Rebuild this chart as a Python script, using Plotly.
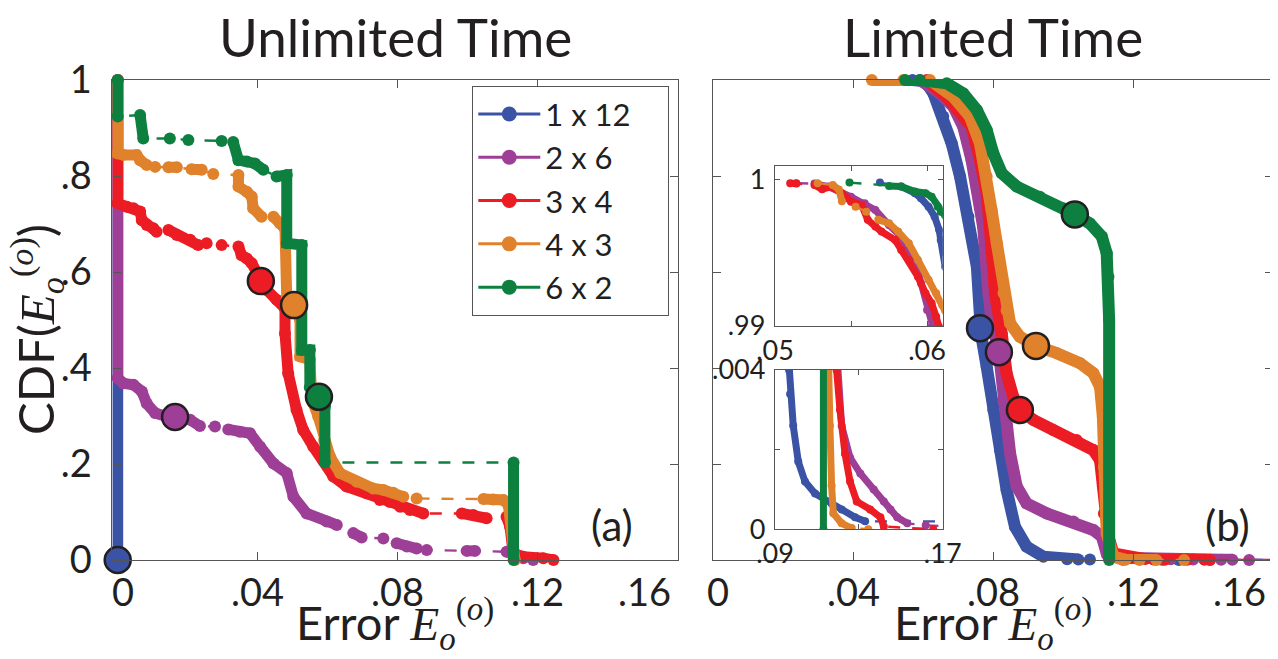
import plotly.graph_objects as go

NAMES = ["1 x 12", "2 x 6", "3 x 4", "4 x 3", "6 x 2"]
COLORS = ["#3A53A4", "#9D3F97", "#EC1C24", "#E0812B", "#0D8040"]

# ---------------- panel (a): Unlimited Time (runs of dense points) ----------------
A_BLUE = [[(0, 1), (0, 0)]]
A_PURPLE = [
    [(0, 1), (0, .379), (.0016, .368), (.0045, .365), (.0069, .351), (.0083, .326), (.0107, .306),
     (.014, .299), (.0169, .299), (.0207, .292), (.0235, .279)],
    [(.0278, .278)],
    [(.0316, .272), (.0349, .267), (.0378, .264), (.0407, .236), (.0445, .201), (.0483, .181),
     (.0502, .132), (.054, .097), (.0597, .080), (.0626, .073)],
    [(.0673, .056), (.0697, .047)],
    [(.0759, .045)],
    [(.0797, .035), (.0826, .028), (.0854, .024)],
    [(.0883, .021)],
    [(.0997, .019), (.1021, .019)],
    [(.1111, .017), (.113, .014), (.1159, .0035), (.1187, 0)],
]
A_RED = [
    [(0, 1), (0, .743), (.0026, .736), (.0045, .733), (.0064, .726), (.0069, .708), (.0083, .698),
     (.0102, .691), (.0111, .684)],
    [(.0145, .6875), (.0169, .677), (.0207, .667), (.023, .656)],
    [(.0254, .660)],
    [(.0297, .656)],
    [(.0345, .653), (.0354, .635), (.0369, .628), (.0383, .618), (.0407, .587), (.0426, .5625),
     (.0454, .542), (.0478, .524), (.0478, .472), (.0487, .389), (.0511, .3125), (.053, .271),
     (.0559, .236), (.0587, .208), (.0616, .174), (.0654, .153), (.0711, .139), (.0749, .125),
     (.0778, .121), (.0807, .111), (.0835, .104), (.0873, .097)],
    [(.0983, .097), (.1016, .094), (.1054, .087)],
    [(.1111, .090), (.1121, .069), (.113, .014), (.1159, .007), (.1216, .0035), (.1245, 0)],
]
A_ORANGE = [
    [(0, 1), (0, .847), (.0016, .844), (.0054, .844), (.0064, .833), (.0083, .823)],
    [(.0107, .819)],
    [(.0145, .818), (.0169, .818)],
    [(.0211, .814), (.024, .813)],
    [(.0273, .804)],
    [(.0345, .802), (.0345, .778), (.0369, .767), (.0383, .757), (.0387, .733), (.0411, .715)],
    [(.0445, .715), (.0464, .701), (.0478, .690), (.0483, .545), (.0502, .531), (.0521, .50),
     (.0521, .424), (.0549, .417), (.0555, .333), (.0573, .299), (.059, .25), (.0607, .215),
     (.0635, .181), (.0683, .163), (.073, .149), (.0759, .146), (.0787, .140), (.0816, .132)],
    [(.0854, .128)],
    [(.1045, .127), (.1073, .126), (.1102, .125), (.1116, .115), (.1135, 0)],
]
A_GREEN = [
    [(0, 1), (0, .924)],
    [(.0064, .927), (.0073, .878)],
    [(.0149, .878)],
    [(.0202, .875)],
    [(.0297, .873)],
    [(.033, .871), (.0345, .833), (.0369, .830), (.0392, .826), (.0416, .813)],
    [(.0454, .799), (.0483, .802), (.0483, .660), (.0526, .656), (.0526, .4375), (.0549, .4375),
     (.0549, .36), (.0578, .34), (.0592, .32), (.0592, .203)],
    [(.1131, .203), (.1131, 0)],
]
A_MARK_X = [0, .0164, .0409, .0504, .0575]
A_MARK_Y = [0, .298, .581, .531, .340]

# ---------------- panel (b): Limited Time ----------------
B_BLUE = [
    [(.0569, 1.0), (.0605, .9975), (.0629, .972), (.0657, .924), (.0681, .868), (.0705, .799),
     (.0729, .715), (.0753, .611), (.0762, .507), (.0762, .483), (.0781, .403), (.08, .3125),
     (.0819, .229), (.0838, .146), (.0862, .069), (.0895, .028), (.0943, .007), (.1011, .0017),
     (.1043, .0012)],
    [(.1076, .0012)],
    [(.117, .0007), (.1282, .0003), (.133, .0002)],
    [(.165, .0002)],
]
B_PURPLE = [
    [(.059, 1.0), (.0648, .972), (.0686, .944), (.0714, .903), (.0738, .833), (.0757, .764),
     (.0771, .694), (.0786, .556), (.0795, .50), (.0816, .433), (.0829, .333), (.0848, .222),
     (.0867, .153), (.0895, .118), (.0953, .097), (.1029, .080), (.1086, .0625), (.111, .0486),
     (.1124, .014), (.1194, .004), (.1258, .0018), (.1307, .0014), (.1371, .001), (.1419, .0007),
     (.1451, .0005), (.1483, .0003)],
    [(.1531, .00015)],
    [(.1619, .0001)],
]
B_RED = [
    [(.061, 1.0), (.0676, .958), (.0714, .924), (.0738, .903), (.0762, .833), (.0781, .764),
     (.079, .694), (.0805, .556), (.0824, .472), (.0838, .389), (.0857, .340), (.0876, .3125),
     (.0914, .292), (.0971, .271), (.1038, .25), (.1086, .229), (.1105, .208), (.1113, .153),
     (.1116, .097), (.1129, .0486), (.1143, .014), (.1194, .004), (.121, .003), (.1234, .0019),
     (.1258, .0012), (.129, .0007), (.1354, .0005), (.1403, .0003), (.1419, .0001)],
    [(.1655, 0)],
]
B_ORANGE = [
    [(.0453, 1.0), (.0543, 1.0), (.0619, 1.0), (.0686, .965), (.0733, .924), (.0762, .868),
     (.0781, .799), (.0795, .729), (.081, .660), (.0829, .556), (.0838, .52), (.0848, .493),
     (.0876, .465), (.0922, .446), (.0981, .431), (.1048, .41), (.1086, .389), (.1105, .361),
     (.1113, .2986), (.1116, .194), (.1124, .0556), (.1143, .007), (.1154, .004), (.1162, .0026),
     (.117, .0011), (.1178, .0004), (.1218, .00015), (.1266, .00003)],
    [(.1345, 0)],
]
B_GREEN = [
    [(.0548, 1.0), (.059, 1.0), (.0667, .993), (.0714, .972), (.0753, .9375), (.0781, .896),
     (.08, .847), (.0824, .806), (.0867, .778), (.0933, .757), (.1, .733), (.1033, .720),
     (.1076, .701), (.111, .674), (.1124, .639), (.1129, .590), (.1131, .5), (.1131, 0)],
]
B_MARK_X = [.0762, .0816, .0876, .0922, .1033]
B_MARK_Y = [.483, .433, .3125, .446, .720]

# ---------------- inset 1 (near CDF = 1) ----------------
I1_BLUE = [
    [(.0569, .99977)],
    [(.0583, .9995), (.0592, .99905), (.0596, .9987), (.0601, .99813), (.0605, .99745),
     (.0608, .99654), (.0609, .99586), (.0612, .994)],
]
I1_PURPLE = [
    [(.0514, .99973)],
    [(.0526, .9997), (.0535, .9995), (.055, .9988), (.0559, .99836), (.0566, .9979), (.0575, .99688),
     (.0583, .99609), (.0592, .9945), (.0596, .99291), (.06, .99109), (.0603, .98995), (.0605, .9895)],
]
I1_RED = [
    [(.051, .99973), (.0514, .9997)],
    [(.0526, .9996), (.0531, .99932), (.0537, .9995), (.0544, .99905), (.055, .99847), (.0557, .99825),
     (.0561, .99723), (.0566, .99677), (.057, .99643), (.0579, .99586), (.0583, .99518), (.0588, .9945),
     (.0594, .99336), (.0599, .99223), (.0603, .99155), (.0606, .99063), (.0608, .98995), (.0609, .9895)],
]
I1_ORANGE = [
    [(.0528, .99973)],
    [(.0538, .9996), (.0542, .9993), (.0544, .9985)],
    [(.0553, .99813)],
    [(.056, .99779)],
    [(.0568, .99723), (.0575, .997), (.0581, .99643), (.0588, .99564), (.0594, .9945), (.0601, .99314),
     (.0606, .99223), (.061, .99143), (.0612, .991)],
]
I1_GREEN = [
    [(.0549, .99977)],
    [(.0575, .99954), (.0583, .9995), (.0592, .99916), (.0599, .99905), (.0603, .99881), (.0607, .99813),
     (.0609, .99779), (.0612, .9975)],
]

# ---------------- inset 2 (near CDF = 0) ----------------
I2_BLUE = [
    [(.0962, .0045), (.0967, .004), (.0972, .0034), (.0987, .0026), (.1011, .0017), (.1043, .0012),
     (.1091, .0009), (.117, .00065), (.1218, .0005), (.1282, .0003), (.133, .0002)],
    [(.175, .0002)],
]
I2_PURPLE = [
    [(.1194, .0045), (.1218, .0026), (.1258, .0018), (.1307, .0014), (.1371, .001), (.1419, .0007),
     (.1451, .0005), (.1483, .0003), (.1531, .00015)],
    [(.1619, .0001)],
    [(.175, .00007)],
]
I2_RED = [
    [(.1191, .005), (.1194, .004), (.121, .003), (.1234, .0019), (.1258, .0012), (.129, .0007),
     (.1354, .0005), (.1403, .0003), (.1419, .00007)],
    [(.1655, 0)],
]
I2_ORANGE = [
    [(.1152, .005), (.1154, .004), (.1162, .0026), (.117, .0011), (.1178, .0004), (.1218, .00015),
     (.1266, .00003)],
    [(.1345, 0)],
]
I2_GREEN = [[(.1131, .005), (.1131, 0)]]

MAIN_TICKS = [0, .04, .08, .12, .16]
MAIN_TICKTEXT = ["0", ".04", ".08", ".12", ".16"]
Y_TICKS = [0, .2, .4, .6, .8, 1]
Y_TICKTEXT = ["0", ".2", ".4", ".6", ".8", "1"]

FONT = "Lato"
INK = "#231F20"


def split_runs(runs):
    xs, ys = [], []
    for i, run in enumerate(runs):
        if i:
            xs.append(None)
            ys.append(None)
        for x, y in run:
            xs.append(x)
            ys.append(y)
    return xs, ys


def joined(runs):
    xs = [p[0] for run in runs for p in run]
    ys = [p[1] for run in runs for p in run]
    return xs, ys


fig = go.Figure()


def add_series(runs, color, xa, ya, width, msize, clip):
    jx, jy = joined(runs)
    fig.add_trace(go.Scatter(x=jx, y=jy, mode="lines", xaxis=xa, yaxis=ya,
                             line=dict(color=color, width=2.4, dash="12px,12px"),
                             showlegend=False, hoverinfo="skip", cliponaxis=clip))
    fx, fy = split_runs(runs)
    fig.add_trace(go.Scatter(x=fx, y=fy, mode="lines+markers", xaxis=xa, yaxis=ya,
                             line=dict(color=color, width=width),
                             marker=dict(size=msize, color=color, line=dict(width=0)),
                             connectgaps=False, showlegend=False, hoverinfo="skip",
                             cliponaxis=clip))


for runs, c in zip([A_BLUE, A_PURPLE, A_RED, A_ORANGE, A_GREEN], COLORS):
    add_series(runs, c, "x", "y", 11, 12, False)
for runs, c in zip([B_BLUE, B_PURPLE, B_RED, B_ORANGE, B_GREEN], COLORS):
    add_series(runs, c, "x2", "y2", 12, 12, False)
for runs, c in zip([I1_BLUE, I1_PURPLE, I1_RED, I1_ORANGE, I1_GREEN], COLORS):
    add_series(runs, c, "x3", "y3", 7, 8, True)
for runs, c in zip([I2_BLUE, I2_PURPLE, I2_RED, I2_ORANGE, I2_GREEN], COLORS):
    add_series(runs, c, "x4", "y4", 7, 8, True)

fig.add_trace(go.Scatter(x=A_MARK_X, y=A_MARK_Y, mode="markers", xaxis="x", yaxis="y",
                         marker=dict(size=26, color=COLORS, line=dict(color=INK, width=2.5)),
                         showlegend=False, hoverinfo="skip", cliponaxis=False))
fig.add_trace(go.Scatter(x=B_MARK_X, y=B_MARK_Y, mode="markers", xaxis="x2", yaxis="y2",
                         marker=dict(size=26, color=COLORS, line=dict(color=INK, width=2.5)),
                         showlegend=False, hoverinfo="skip", cliponaxis=False))

PAD_NAME = "\u00a0\u00a0\u00a0\u00a0"
for name, c in zip(NAMES, COLORS):
    fig.add_trace(go.Scatter(x=[None], y=[None], mode="lines+markers", name=name + PAD_NAME,
                             line=dict(color=c, width=3), marker=dict(size=15, color=c),
                             xaxis="x", yaxis="y"))

# the page body adds an 8 px margin around the figure
OFF = 8
W, H = 1270, 651


def px_x(p):
    return (p - OFF) / W


def px_y(p):
    return 1 - (p - OFF) / H


axis_common = dict(showline=True, linecolor="#555", linewidth=1.3, mirror="ticks",
                   ticks="inside", ticklen=8, tickcolor="#555", tickwidth=1.3,
                   showgrid=False, zeroline=False, automargin=False,
                   tickfont=dict(family=FONT, size=38, color=INK))
inset_common = dict(axis_common, ticklen=5, tickfont=dict(family=FONT, size=27, color=INK))

fig.update_layout(
    template="none",
    width=W, height=H, margin=dict(l=0, r=0, t=0, b=0, pad=0, autoexpand=False),
    paper_bgcolor="white", plot_bgcolor="white",
    xaxis=dict(axis_common, domain=[px_x(112.45), px_x(677.7)], range=[-0.0015, 0.16],
               tickvals=MAIN_TICKS, showticklabels=False, anchor="y"),
    yaxis=dict(axis_common, domain=[px_y(560), px_y(80)], range=[0, 1],
               tickvals=Y_TICKS, ticktext=Y_TICKTEXT, anchor="x", ticklabelstandoff=12),
    xaxis2=dict(axis_common, domain=[px_x(713.3), px_x(1273.3)], range=[0, 0.16],
                tickvals=MAIN_TICKS, showticklabels=False, anchor="y2"),
    yaxis2=dict(axis_common, domain=[px_y(560), px_y(80)], range=[0, 1],
                tickvals=Y_TICKS, showticklabels=False, anchor="x2"),
    xaxis3=dict(inset_common, domain=[px_x(775), px_x(942.7)], range=[0.05, 0.06103],
                tickvals=[.05, .055, .06], ticktext=[".05", "", ".06"], anchor="y3"),
    yaxis3=dict(inset_common, domain=[px_y(326), px_y(166)], range=[0.99, 1.0009],
                tickvals=[.99, 1], ticktext=[".99", "1"], anchor="x3", ticklabelstandoff=3),
    xaxis4=dict(inset_common, domain=[px_x(775), px_x(942.7)], range=[0.09, 0.17],
                tickvals=[.09, .13, .17], ticktext=[".09", "", ".17"], anchor="y4"),
    yaxis4=dict(inset_common, domain=[px_y(529.3), px_y(370)], range=[0, 0.004],
                tickvals=[0, .002, .004], ticktext=["0", "", ".004"], anchor="x4",
                ticklabelstandoff=3),
    legend=dict(x=px_x(472), y=px_y(86), xanchor="left", yanchor="top",
                bgcolor="white", bordercolor="#555", borderwidth=1.3, itemwidth=62,
                font=dict(family=FONT, size=31, color=INK), tracegroupgap=0),
    showlegend=True,
)

E_TXT = ('<span style="font-family:Liberation Serif"><i>E</i><sub><i>o</i></sub>'
         '<sup>(<i>o</i>)</sup></span>')


def note(text, x, y, size, **kw):
    d = dict(text=text, x=x, y=y, xref="paper", yref="paper", showarrow=False,
             xanchor="center", yanchor="middle", font=dict(family=FONT, size=size, color=INK))
    d.update(kw)
    return d


annotations = [
    note("Unlimited Time", px_x(395), px_y(37), 53),
    note("Limited Time", px_x(993), px_y(37), 53),
    note("Error " + E_TXT, px_x(395), px_y(624), 47),
    note("Error " + E_TXT, px_x(993), px_y(624), 47),
    note("CDF(" + E_TXT + ")", px_x(36), px_y(330), 49, textangle=-90),
    note("(a)", px_x(612), px_y(525), 42),
    note("(b)", px_x(1227), px_y(525), 42),
]
# x tick labels of both panels, drawn on their own axes so the last one stays inside its panel
for xref in ("x", "x2"):
    for i, (v, t) in enumerate(zip(MAIN_TICKS, MAIN_TICKTEXT)):
        first = i == 0
        last = i == len(MAIN_TICKS) - 1
        annotations.append(dict(text=t, x=v, y=px_y(591), xref=xref, yref="paper",
                                showarrow=False, xanchor="right" if last else "center",
                                xshift=-5 if last else (5 if first else 0), yanchor="middle",
                                font=dict(family=FONT, size=38, color=INK)))
fig.update_layout(annotations=annotations)

fig.write_html("out.html")
